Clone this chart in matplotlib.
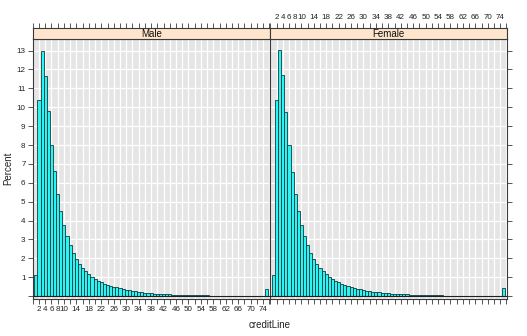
import matplotlib
matplotlib.use("Agg")
import matplotlib.pyplot as plt
import numpy as np

plt.rcParams['font.family'] = ['Liberation Sans', 'DejaVu Sans']

# Percent of records for each creditLine value (1..75), by gender
credit_line = list(range(1, 76))
male_pct = [1.12, 10.38, 12.97, 11.68, 9.79, 8.00, 6.60, 5.42, 4.52, 3.77,
            3.18, 2.72, 2.30, 1.98, 1.72, 1.50, 1.32, 1.16, 1.02, 0.91,
            0.82, 0.75, 0.67, 0.61, 0.55, 0.50, 0.46, 0.41, 0.37, 0.33,
            0.30, 0.27, 0.25, 0.23, 0.21, 0.19, 0.17, 0.16, 0.14, 0.13,
            0.12, 0.11, 0.10, 0.09, 0.08, 0.08, 0.07, 0.07, 0.06, 0.06,
            0.05, 0.05, 0.05, 0.04, 0.04, 0.04, 0.01, 0.01, 0.01, 0.01,
            0.01, 0.01, 0.01, 0.01, 0.01, 0.01, 0.01, 0.01, 0.01, 0.01,
            0.01, 0.01, 0.01, 0.01, 0.40]
female_pct = [1.10, 10.38, 13.03, 11.70, 9.76, 8.00, 6.58, 5.40, 4.50, 3.76,
              3.17, 2.70, 2.29, 1.97, 1.71, 1.49, 1.31, 1.15, 1.01, 0.90,
              0.81, 0.74, 0.66, 0.60, 0.54, 0.49, 0.45, 0.40, 0.36, 0.32,
              0.29, 0.27, 0.24, 0.22, 0.20, 0.18, 0.17, 0.15, 0.14, 0.13,
              0.12, 0.11, 0.10, 0.09, 0.08, 0.07, 0.07, 0.06, 0.06, 0.05,
              0.05, 0.05, 0.04, 0.04, 0.04, 0.03, 0.01, 0.01, 0.01, 0.01,
              0.01, 0.01, 0.01, 0.01, 0.01, 0.01, 0.01, 0.01, 0.01, 0.01,
              0.01, 0.01, 0.01, 0.01, 0.45]
panels = ["Male", "Female"]
x_ticks = list(range(0, 77, 2))
x_tick_labels = [str(t) if (t <= 10 and t > 0) or (t >= 14 and (t - 14) % 4 == 0) else ""
                 for t in x_ticks]
y_ticks = list(range(0, 14))
y_tick_labels = [""] + [str(t) for t in range(1, 14)]

W, H = 527, 336
fig = plt.figure(figsize=(W / 100, H / 100), dpi=100)

XLIM = (-0.1, 76.2)
YLIM = (-0.15, 13.64)
BG = "#e5e5e5"
STRIP = "#ffe5cc"
FRAME = "#3a3a3a"
BAR = "#2cf4f4"
TICK_FS = 5.8

def px_rect(x0, y0, x1, y1):
    return [x0 / W, 1 - y1 / H, (x1 - x0) / W, (y1 - y0) / H]

panel_x = [(32.5, 270.0), (270.0, 507.0)]
panel_top, panel_bot = 38.5, 299.0
strip_top = 28.3

for i, (name, vals) in enumerate(zip(panels, [male_pct, female_pct])):
    x0, x1 = panel_x[i]
    ax = fig.add_axes(px_rect(x0, panel_top, x1, panel_bot))
    ax.set_facecolor(BG)
    ax.set_xlim(*XLIM)
    ax.set_ylim(*YLIM)
    for t in x_ticks:
        ax.axvline(t, color="white", lw=0.9, zorder=0)
    for t in y_ticks[1:]:
        ax.axhline(t, color="white", lw=0.9, zorder=0)
    ax.bar(credit_line, vals, width=1.0, color=BAR, edgecolor="#123c3c",
           linewidth=0.6, zorder=2)
    ax.axhline(0, color="#202020", lw=0.8, zorder=3)
    for s in ax.spines.values():
        s.set_color(FRAME)
        s.set_linewidth(0.8)
    ax.set_xticks(x_ticks)
    ax.set_yticks(y_ticks)
    ax.tick_params(direction="out", length=3.5, width=0.6, color=FRAME,
                   labelsize=TICK_FS, pad=1.5, labelcolor="#222222")
    if i == 0:
        ax.set_xticklabels(x_tick_labels)
        ax.set_yticklabels(y_tick_labels)
        ax.tick_params(axis="y", left=True, right=False, labelleft=True)
    else:
        ax.set_xticklabels([])
        ax.yaxis.tick_right()
        ax.set_yticklabels([])
    # strip with the panel name
    sx = fig.add_axes(px_rect(x0, strip_top, x1, panel_top))
    sx.set_facecolor(STRIP)
    sx.set_xlim(*XLIM)
    sx.set_yticks([])
    sx.xaxis.tick_top()
    sx.set_xticks(x_ticks)
    sx.tick_params(direction="out", length=3.5, width=0.6, color=FRAME,
                   labelsize=TICK_FS, pad=1.5, labelcolor="#222222")
    if i == 1:
        sx.set_xticklabels(x_tick_labels)
    else:
        sx.set_xticklabels([])
    for s in sx.spines.values():
        s.set_color(FRAME)
        s.set_linewidth(0.8)
    sx.text(0.5, 0.45, name, transform=sx.transAxes, ha="center", va="center",
            fontsize=7, color="#111111")

fig.text(8 / W, 1 - 168 / H, "Percent", rotation=90, ha="center", va="center",
         fontsize=7, color="#222222")
fig.text(270 / W, 1 - 325 / H, "creditLine", ha="center", va="center",
         fontsize=7, color="#222222")

fig.savefig("out.png", dpi=100, facecolor="white")
